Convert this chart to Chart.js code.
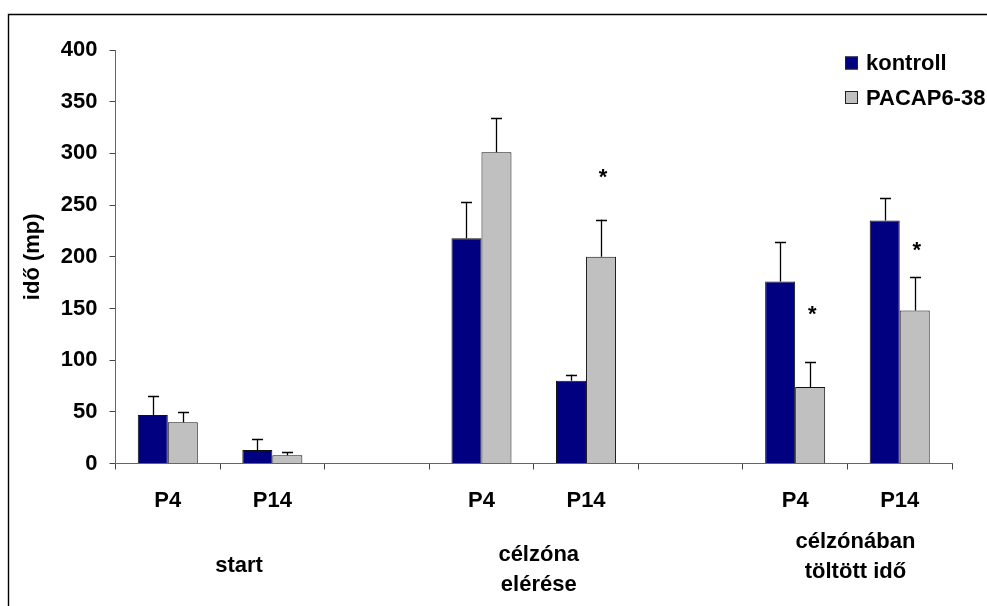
<!DOCTYPE html>
<html>
<head>
<meta charset="utf-8">
<script src="https://cdn.jsdelivr.net/npm/chart.js@4/dist/chart.umd.min.js"></script>
<style>
  html, body { margin: 0; padding: 0; background: #fff; }
  #wrap { width: 987px; height: 606px; position: relative; }
</style>
</head>
<body>
<div id="wrap"><canvas id="c" width="987" height="606"></canvas></div>
<script>
// Categories: P4 / P14 per test phase, empty slots separate the phases
const categories = ['P4', 'P14', '', 'P4', 'P14', '', 'P4', 'P14'];

// Mean time (s) and upper error (SEM) for each group
const kontroll     = [47, 13, null, 218, 80, null, 176, 235];
const kontrollErr  = [18, 11, null, 35, 6, null, 38, 22];
const pacap        = [40, 8, null, 301, 200, null, 74, 148];
const pacapErr     = [10, 3, null, 33, 36, null, 24, 32];

// Significance marks (*) over the PACAP6-38 bars, value level of the mark
const starLevel    = [null, null, null, null, 279, null, 147, 208];

// Phase names under the P4/P14 pairs (first category index of each pair)
const phaseNames   = [['start'], ['célzóna', 'elérése'], ['célzónában', 'töltött idő']];
const phaseStart   = [0, 3, 6];

// Y-axis ticks
const yMin = 0, yMax = 400, yStep = 50;

const FONT = 'Liberation Sans, Arial, sans-serif';
const FS = 22;

// Error bars (upper only) drawn from the bar tops
const errorBars = {
  id: 'errorBars',
  afterDatasetsDraw(chart) {
    const ctx = chart.ctx;
    const y = chart.scales.y;
    const errs = [kontrollErr, pacapErr];
    ctx.save();
    ctx.strokeStyle = '#000';
    ctx.lineWidth = 1.3;
    chart.data.datasets.forEach((ds, i) => {
      const meta = chart.getDatasetMeta(i);
      meta.data.forEach((bar, j) => {
        const v = ds.data[j], e = errs[i][j];
        if (v == null || e == null) return;
        const top = y.getPixelForValue(v + e);
        const x = Math.round(bar.x) + 0.5;
        ctx.beginPath();
        ctx.moveTo(x, bar.y);
        ctx.lineTo(x, top);
        ctx.moveTo(x - 5.5, Math.round(top) + 0.5);
        ctx.lineTo(x + 5.5, Math.round(top) + 0.5);
        ctx.stroke();
      });
    });
    ctx.restore();
  }
};

// Stars, phase names, legend and outer frame
const annotations = {
  id: 'annotations',
  afterDraw(chart) {
    const ctx = chart.ctx;
    const xs = chart.scales.x, ys = chart.scales.y;
    ctx.save();
    ctx.fillStyle = '#000';

    // significance stars
    ctx.font = `bold ${FS}px ${FONT}`;
    ctx.textAlign = 'center';
    ctx.textBaseline = 'alphabetic';
    const pMeta = chart.getDatasetMeta(1);
    starLevel.forEach((lv, j) => {
      if (lv == null) return;
      const bx = pMeta.data[j].x;
      ctx.fillText('*', bx + 2, ys.getPixelForValue(lv) + 9);
    });

    // phase names under the category pairs
    const nudge = [19, 5, 8];
    const top = [566, 555, 542];
    phaseNames.forEach((lines, k) => {
      const i = phaseStart[k];
      const cx = (xs.getPixelForValue(i) + xs.getPixelForValue(i + 1)) / 2 + nudge[k];
      ctx.textBaseline = 'middle';
      lines.forEach((t, n) => ctx.fillText(t, cx, top[k] + n * 30));
    });

    // legend
    ctx.textAlign = 'left';
    ctx.textBaseline = 'middle';
    chart.data.datasets.forEach((ds, i) => {
      const ly = 63 + i * 34.5;
      ctx.fillStyle = ds.backgroundColor;
      ctx.fillRect(845, ly - 6.5, 13, 13);
      ctx.strokeStyle = '#222';
      ctx.lineWidth = 1;
      ctx.strokeRect(845.5, ly - 6, 12, 12);
      ctx.fillStyle = '#000';
      ctx.fillText(ds.label, 866, ly + 1);
    });

    // outer frame
    ctx.strokeStyle = '#000';
    ctx.lineWidth = 1.4;
    ctx.beginPath();
    ctx.moveTo(8.5, chart.height);
    ctx.lineTo(8.5, 14.5);
    ctx.lineTo(chart.width, 14.5);
    ctx.stroke();
    ctx.restore();
  }
};

const whiteBg = {
  id: 'whiteBg',
  beforeDraw(chart) {
    const ctx = chart.ctx;
    ctx.save();
    ctx.fillStyle = '#fff';
    ctx.fillRect(0, 0, chart.width, chart.height);
    ctx.restore();
  }
};

new Chart(document.getElementById('c'), {
  type: 'bar',
  data: {
    labels: categories,
    datasets: [
      { label: 'kontroll', data: kontroll, backgroundColor: '#000080', borderColor: '#111', borderWidth: 1 },
      { label: 'PACAP6-38', data: pacap, backgroundColor: '#C0C0C0', borderColor: '#111', borderWidth: 1 }
    ]
  },
  options: {
    responsive: false,
    devicePixelRatio: 1,
    animation: false,
    layout: { padding: { top: 50, right: 35, left: 0, bottom: 0 } },
    datasets: { bar: { categoryPercentage: 0.574, barPercentage: 1 } },
    plugins: { legend: { display: false }, tooltip: { enabled: false } },
    scales: {
      x: {
        offset: true,
        grid: { offset: true, drawOnChartArea: false, tickLength: 6, color: '#444', lineWidth: 1 },
        border: { color: '#666', width: 1 },
        ticks: { font: { family: FONT, size: FS, weight: 'bold' }, color: '#000', padding: 18, autoSkip: false, maxRotation: 0 },
        afterFit(s) { s.height = 142.5; }
      },
      y: {
        min: yMin, max: yMax,
        grid: { drawOnChartArea: false, tickLength: 6, color: '#444', lineWidth: 1 },
        border: { color: '#666', width: 1 },
        ticks: { stepSize: yStep, font: { family: FONT, size: FS, weight: 'bold' }, color: '#000', padding: 12 },
        title: { display: true, text: 'idő (mp)', font: { family: FONT, size: FS, weight: 'bold' }, color: '#000', padding: { top: 20, bottom: 0 } },
        afterFit(s) { s.width = 115.5; }
      }
    }
  },
  plugins: [whiteBg, errorBars, annotations]
});
</script>
</body>
</html>
